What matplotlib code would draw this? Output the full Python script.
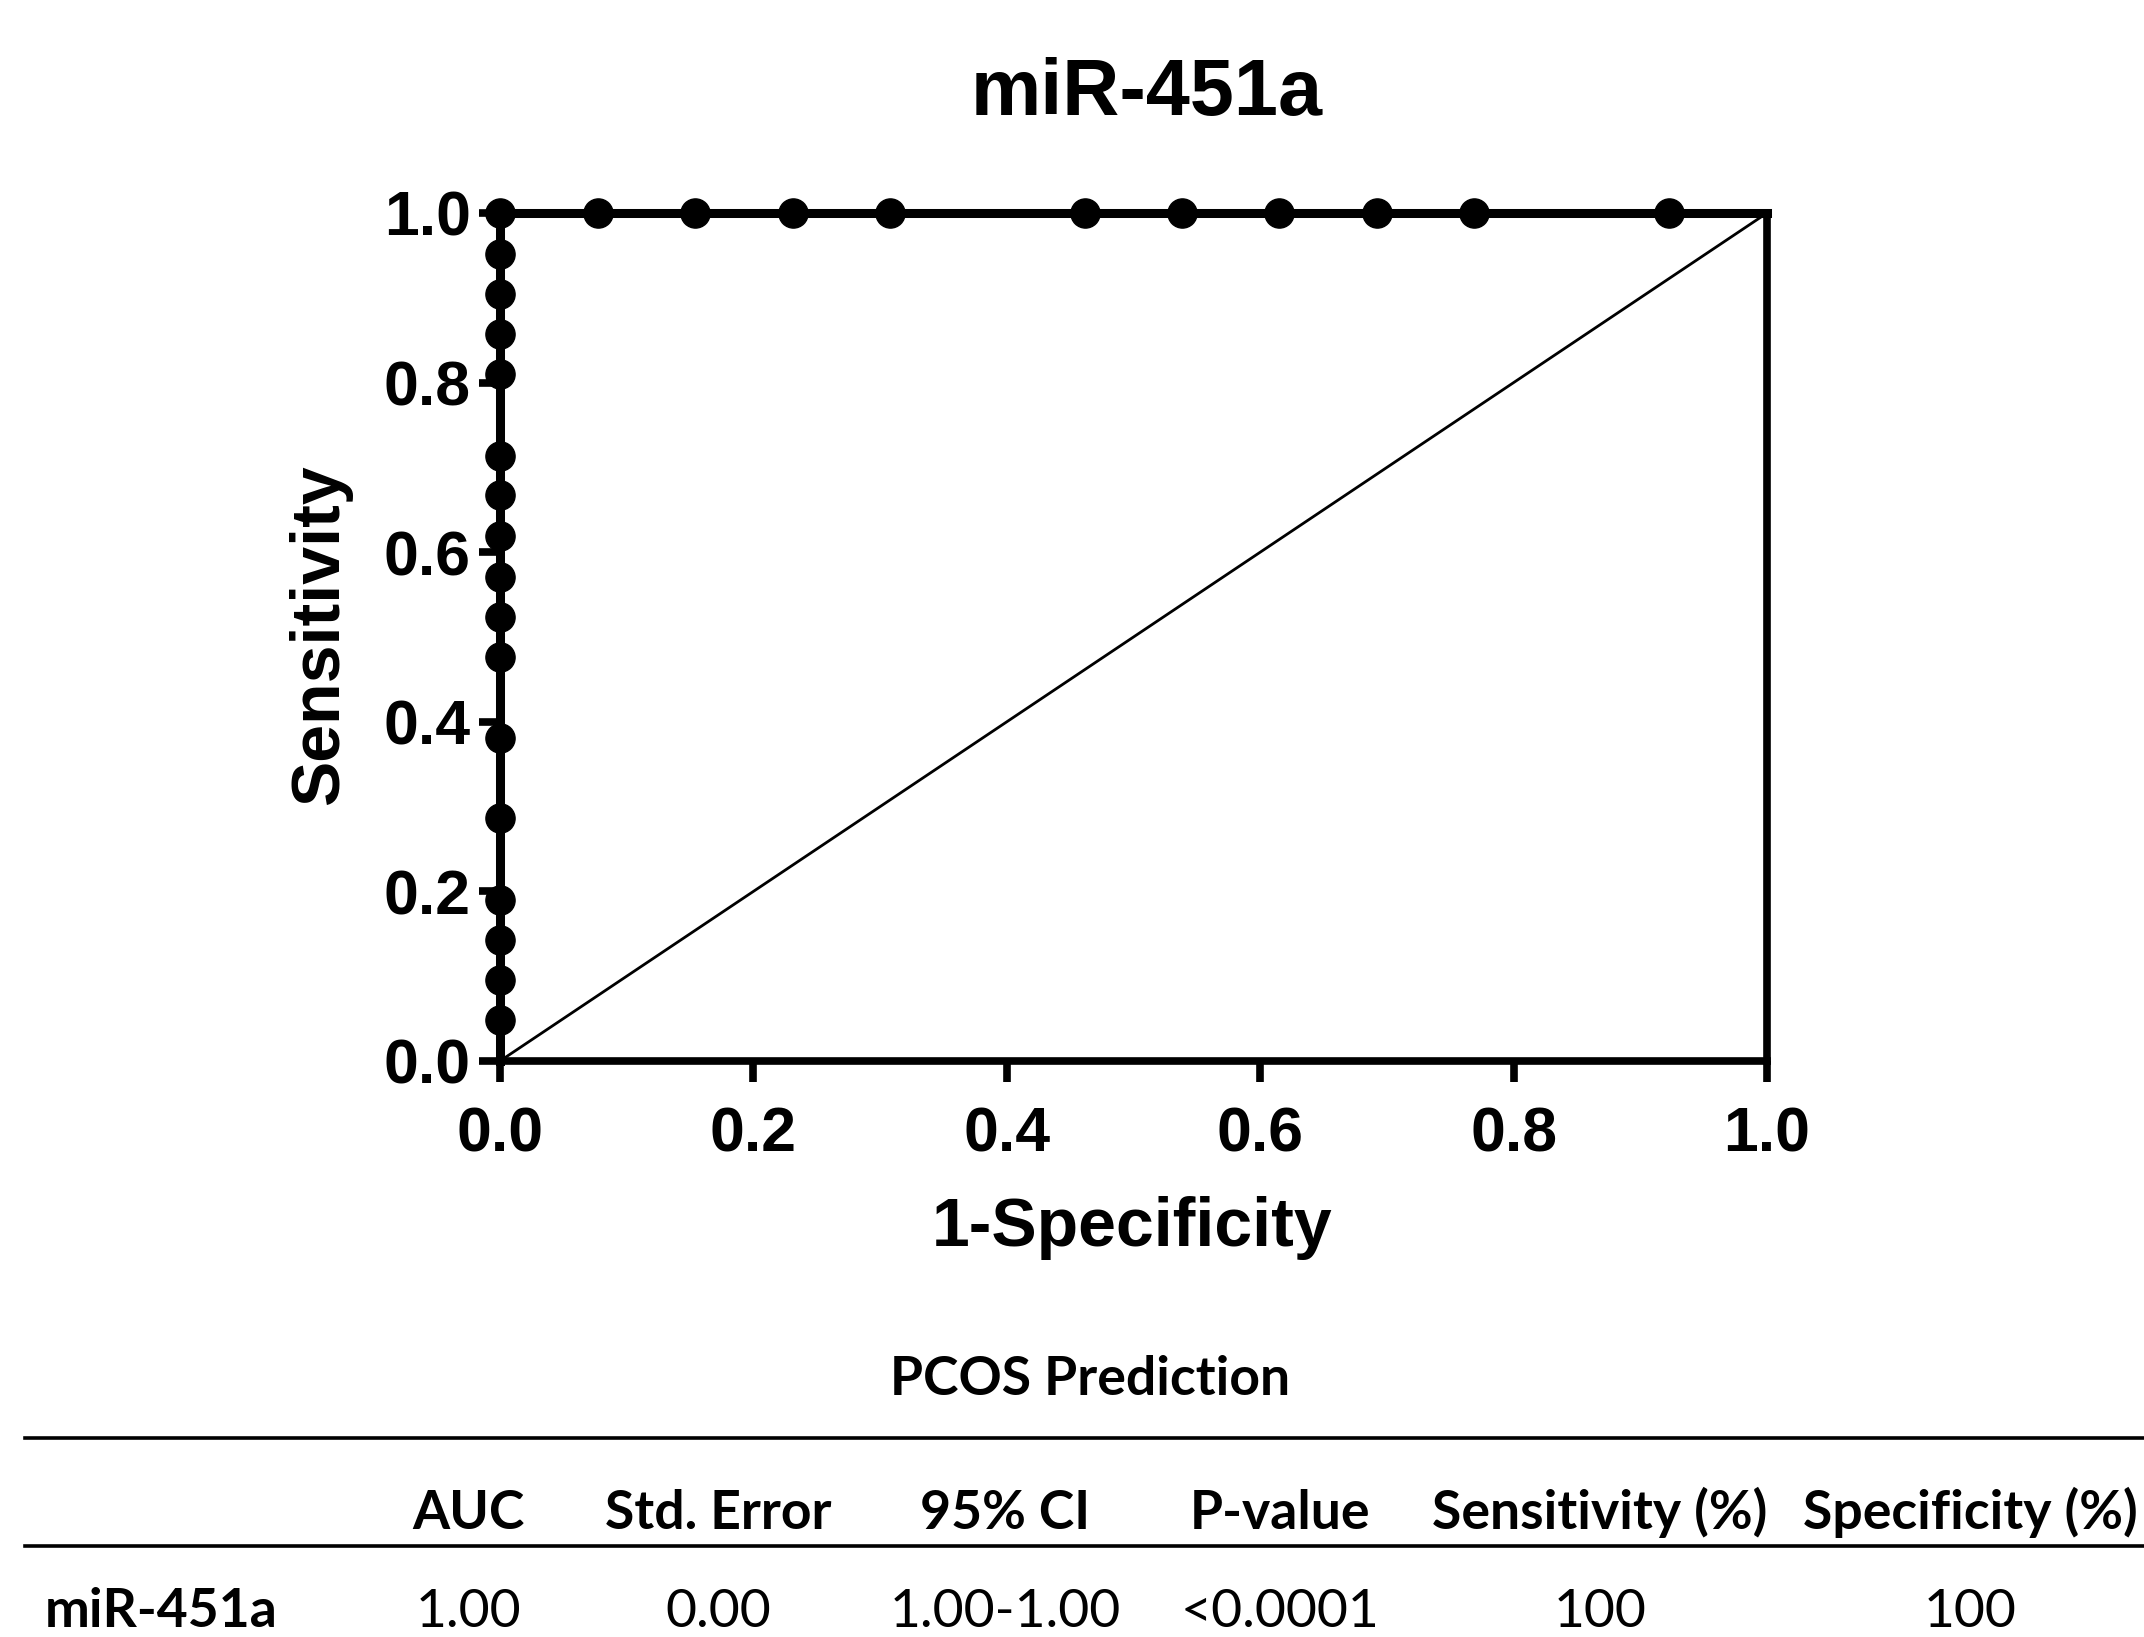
#!/usr/bin/env python3
# ROC curve for miR-451a with the PCOS prediction summary table underneath

import matplotlib
matplotlib.use("Agg")
import matplotlib.pyplot as plt
from matplotlib.lines import Line2D

# ROC points (1-specificity, sensitivity)
fpr = [0.0, 0.0, 0.0, 0.0, 0.0, 0.0, 0.0, 0.0, 0.0, 0.0, 0.0, 0.0, 0.0,
       0.0, 0.0, 0.0, 0.0, 0.0,
       0.077, 0.154, 0.231, 0.308, 0.462, 0.538, 0.615, 0.692, 0.769,
       0.923, 1.0]
tpr = [0.0, 0.048, 0.095, 0.143, 0.190, 0.286, 0.381, 0.476, 0.524,
       0.571, 0.619, 0.667, 0.714, 0.810, 0.857, 0.905, 0.952, 1.0,
       1.0, 1.0, 1.0, 1.0, 1.0, 1.0, 1.0, 1.0, 1.0,
       1.0, 1.0]

# line of no discrimination
chance_x = [0.0, 1.0]
chance_y = [0.0, 1.0]

ticks = [0.0, 0.2, 0.4, 0.6, 0.8, 1.0]

# summary table
table_title = "PCOS Prediction"
table_header = ["AUC", "Std. Error", "95% CI", "P-value",
                "Sensitivity (%)", "Specificity (%)"]
row_name = "miR-451a"
row_values = ["1.00", "0.00", "1.00-1.00", "<0.0001", "100", "100"]

W, H = 2144, 1637
fig = plt.figure(figsize=(W / 100, H / 100), dpi=100)

# axes box in pixels: x 500..1767, y 213..1061 (from top)
ax = fig.add_axes([500 / W, 1 - 1061 / H, 1267 / W, 848 / H])

arial = "Liberation Sans"
lw_axis = 5.5

ax.plot(chance_x, chance_y, color="black", lw=2.0, clip_on=False)
ax.plot(fpr, tpr, color="black", lw=6.5, marker="o", ms=21,
        markevery=list(range(1, len(fpr) - 1)), clip_on=False, zorder=5)

ax.set_xlim(0, 1)
ax.set_ylim(0, 1)
ax.set_xticks(ticks)
ax.set_yticks(ticks)
ax.set_xticklabels([f"{t:.1f}" for t in ticks])
ax.set_yticklabels([f"{t:.1f}" for t in ticks])

for side in ["left", "bottom", "right"]:
    ax.spines[side].set_linewidth(lw_axis)
ax.spines["top"].set_visible(False)

ax.tick_params(direction="out", length=15, width=lw_axis, pad=6,
               labelsize=45)
ax.tick_params(axis="x", pad=17)
for lab in ax.get_xticklabels() + ax.get_yticklabels():
    lab.set_fontfamily(arial)
    lab.set_fontweight("bold")

# title and axis labels
fig.text(1147 / W, 1 - 115 / H, "miR-451a", ha="center", va="baseline",
         fontsize=57, fontweight="bold", family=arial)
fig.text(1132 / W, 1 - 1246 / H, "1-Specificity", ha="center",
         va="baseline", fontsize=49, fontweight="bold", family=arial)
fig.text(320 / W, 1 - 635 / H, "Sensitivity", ha="center", va="center",
         rotation=90, fontsize=49, fontweight="bold", family=arial)

# table
calibri = "Lato"
tsize = 38.5
col_x = [468, 718, 1005, 1280, 1600, 1970]

fig.text(1090 / W, 1 - 1395 / H, table_title, ha="center", va="baseline",
         fontsize=tsize, fontweight="bold", family=calibri)

for y in [1438, 1546]:
    fig.add_artist(Line2D([25 / W, 1.0], [1 - y / H, 1 - y / H],
                          color="black", lw=2.6))

for x, name in zip(col_x, table_header):
    fig.text(x / W, 1 - 1529 / H, name, ha="center", va="baseline",
             fontsize=tsize, fontweight="bold", family=calibri)

fig.text(45 / W, 1 - 1627 / H, row_name, ha="left", va="baseline",
         fontsize=tsize, fontweight="bold", family=calibri)
for x, val in zip(col_x, row_values):
    fig.text(x / W, 1 - 1627 / H, val, ha="center", va="baseline",
             fontsize=tsize, family=calibri)

fig.savefig("out.png", dpi=100)
